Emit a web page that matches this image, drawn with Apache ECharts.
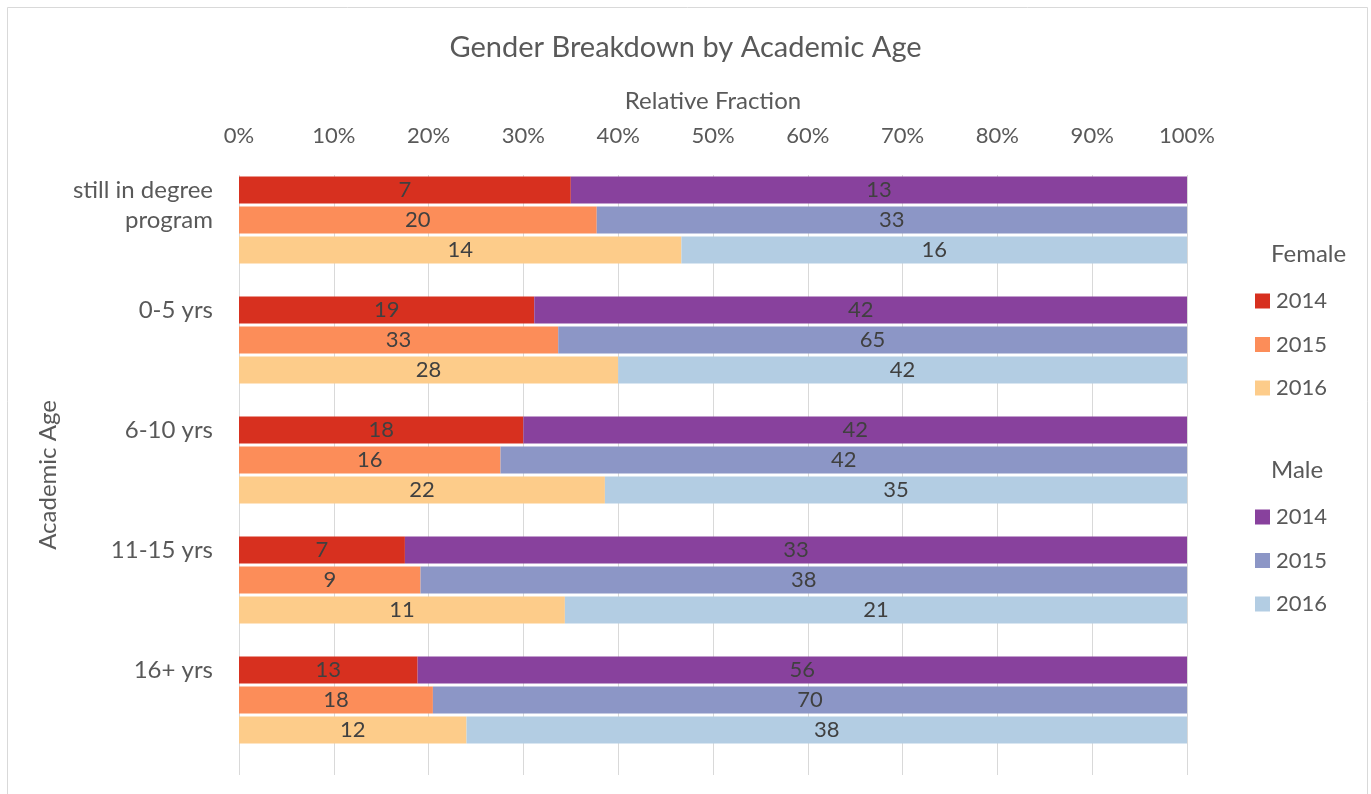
<!DOCTYPE html>
<html>
<head>
<meta charset="utf-8">
<script src="https://cdn.jsdelivr.net/npm/echarts@6/dist/echarts.min.js"></script>
<style>
html,body{margin:0;padding:0;background:#fff;}
#chart{width:1371px;height:794px;}
</style>
</head>
<body>
<div id="chart"></div>
<script>
// ---- data ----
const categories = ["still in degree\nprogram", "0-5 yrs", "6-10 yrs", "11-15 yrs", "16+ yrs"];
const years = ["2014", "2015", "2016"];
const female2014 = [7, 19, 18, 7, 13];
const female2015 = [20, 33, 16, 9, 18];
const female2016 = [14, 28, 22, 11, 12];
const male2014 = [13, 42, 42, 33, 56];
const male2015 = [33, 65, 42, 38, 70];
const male2016 = [16, 42, 35, 21, 38];
const xTicks = [0, 10, 20, 30, 40, 50, 60, 70, 80, 90, 100];

const femaleColors = ["#d7301f", "#fc8d59", "#fdcc8a"];
const maleColors = ["#88419d", "#8c96c6", "#b3cde3"];
const FONT = "Lato";
const TXT = "#595959";
const NUM_SIZE = 22;
const WORD_SIZE = 24;

// rows: 4 per group (3 years + spacer)
const rowsPerGroup = 4;
const rowLabels = [];
categories.forEach(c => {
  const lines = c.split("\n");
  for (let r = 0; r < rowsPerGroup; r++) rowLabels.push(lines[r] || "");
});
const femaleByYear = [female2014, female2015, female2016];
const maleByYear = [male2014, male2015, male2016];

function buildSeries(sex, yi) {
  const arr = sex === "Female" ? femaleByYear[yi] : maleByYear[yi];
  const other = sex === "Female" ? maleByYear[yi] : femaleByYear[yi];
  const data = rowLabels.map(() => "-");
  categories.forEach((c, g) => {
    const tot = arr[g] + other[g];
    data[g * rowsPerGroup + yi] = { value: arr[g] / tot * 100, count: arr[g] };
  });
  return {
    name: sex + " " + years[yi],
    type: "bar",
    stack: "total",
    barCategoryGap: "10%",
    data: data,
    itemStyle: { color: (sex === "Female" ? femaleColors : maleColors)[yi] },
    label: {
      show: true,
      position: "inside",
      formatter: p => p.data && p.data.count !== undefined ? String(p.data.count) : "",
      color: "#404040",
      fontFamily: FONT,
      fontSize: NUM_SIZE
    },
    emphasis: { disabled: true }
  };
}
const series = [];
["Female", "Male"].forEach(s => years.forEach((y, i) => series.push(buildSeries(s, i))));

const legendCommon = {
  orient: "vertical",
  left: 1250,
  itemWidth: 15,
  itemHeight: 15,
  itemGap: 21.5,
  icon: "rect",
  selectedMode: false,
  formatter: n => n.split(" ")[1],
  textStyle: { color: TXT, fontFamily: FONT, fontSize: NUM_SIZE, lineHeight: 21, padding: [0, 0, 0, 1] }
};

const option = {
  animation: false,
  backgroundColor: "#fff",
  title: {
    text: "Gender Breakdown by Academic Age",
    left: "center",
    top: 28,
    textStyle: { color: TXT, fontFamily: FONT, fontSize: 29, fontWeight: "normal" }
  },
  legend: [
    Object.assign({}, legendCommon, { top: 285, data: years.map(y => "Female " + y) }),
    Object.assign({}, legendCommon, { top: 501, data: years.map(y => "Male " + y) })
  ],
  graphic: [
    { type: "rect", shape: { x: 7.5, y: 7.5, width: 1360, height: 820 }, style: { fill: null, stroke: "#d9d9d9", lineWidth: 1 }, silent: true },
    { type: "text", left: 1271, top: 242, style: { text: "Female", fill: TXT, font: WORD_SIZE + "px " + FONT } },
    { type: "text", left: 1271, top: 458, style: { text: "Male", fill: TXT, font: WORD_SIZE + "px " + FONT } }
  ],
  grid: { left: 239, right: 184, top: 175, bottom: 19, containLabel: false },
  xAxis: {
    type: "value",
    position: "top",
    min: xTicks[0],
    max: xTicks[xTicks.length - 1],
    interval: xTicks[1] - xTicks[0],
    name: "Relative Fraction",
    nameLocation: "middle",
    nameGap: 62,
    nameTextStyle: { color: TXT, fontFamily: FONT, fontSize: WORD_SIZE },
    axisLine: { show: false },
    axisTick: { show: false },
    axisLabel: { formatter: "{value}%", color: TXT, fontFamily: FONT, fontSize: NUM_SIZE, margin: 28 },
    splitLine: { show: true, lineStyle: { color: "#d9d9d9", width: 1 } }
  },
  yAxis: {
    type: "category",
    inverse: true,
    data: rowLabels,
    name: "Academic Age",
    nameLocation: "middle",
    nameGap: 179,
    nameRotate: 90,
    nameTextStyle: { color: TXT, fontFamily: FONT, fontSize: WORD_SIZE },
    axisLine: { show: false },
    axisTick: { show: false },
    axisLabel: { interval: 0, color: TXT, fontFamily: FONT, fontSize: WORD_SIZE, margin: 26 }
  },
  series: series
};
echarts.init(document.getElementById("chart"), null, { renderer: "canvas" }).setOption(option);
</script>
</body>
</html>
